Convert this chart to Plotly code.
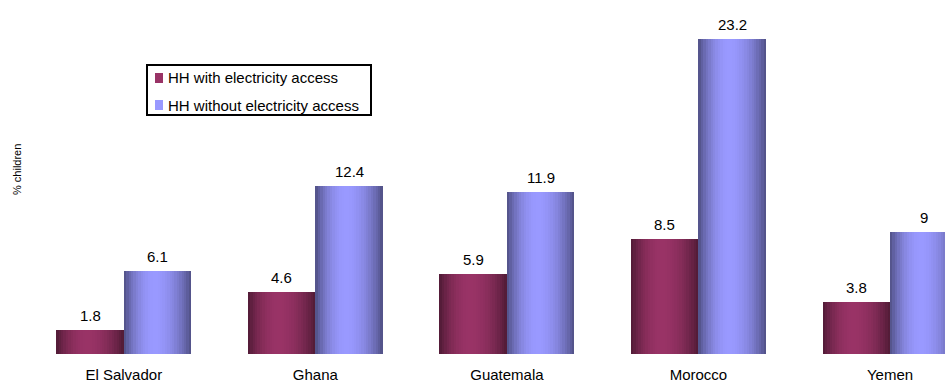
import math
import plotly.graph_objects as go

# Share of children by household electricity access
countries = ["El Salvador", "Ghana", "Guatemala", "Morocco", "Yemen"]
with_access = [1.8, 4.6, 5.9, 8.5, 3.8]
without_access = [6.1, 12.4, 11.9, 23.2, 9]
label_with = ["1.8", "4.6", "5.9", "8.5", "3.8"]
label_without = ["6.1", "12.4", "11.9", "23.2", "9"]
legend_names = ["HH with electricity access", "HH without electricity access"]

FONT = "Liberation Sans, Arial, sans-serif"
W, H = 945, 384
ML, MR, MT, MB = 28, 0, 0, 30
PW, PH = W - ML - MR, H - MT - MB

series = [
    (with_access, label_with, (153, 51, 102), -1),
    (without_access, label_without, (153, 153, 255), 0),
]

BAR_W = 0.3525      # width of one bar in category units
SLICES = 28         # vertical strips used to shade each bar like a cylinder
PEAK = 0.45         # horizontal position of the highlight


def shade(rgb, t):
    # brightness profile across the bar: dark edges, bright band near PEAK
    if t <= PEAK:
        u = t / PEAK * 0.5
    else:
        u = 0.5 + (t - PEAK) / (1 - PEAK) * 0.5
    f = 0.5 + 0.5 * math.sin(math.pi * u) ** 0.8
    r, g, b = (int(round(c * f)) for c in rgb)
    return f"rgb({r},{g},{b})"


def px(x):
    return (x - ML) / PW


def py(y):
    return 1 - (y - MT) / PH


xs = list(range(len(countries)))
fig = go.Figure()

for vals, labels, rgb, side in series:
    sw = BAR_W / SLICES
    for k in range(SLICES):
        t = (k + 0.5) / SLICES
        fig.add_trace(go.Bar(
            x=xs, y=vals,
            width=sw * 1.02,
            offset=side * BAR_W + k * sw,
            marker=dict(color=shade(rgb, t), line=dict(width=0)),
            showlegend=False, hoverinfo="skip",
        ))
    centre = side * BAR_W + BAR_W / 2
    for x, v, lab in zip(xs, vals, labels):
        fig.add_annotation(
            x=x + centre, y=v, text=lab, showarrow=False,
            yanchor="bottom", yshift=4,
            font=dict(family=FONT, size=15, color="#000"),
        )

# legend box drawn in paper coordinates
fig.add_shape(
    type="rect", xref="paper", yref="paper",
    x0=px(147), x1=px(371), y0=py(65), y1=py(115),
    line=dict(color="black", width=2), fillcolor="white", layer="above",
)
for i, (name, (_, _, rgb, _)) in enumerate(zip(legend_names, series)):
    cy = 78 + i * 27
    fig.add_shape(
        type="rect", xref="paper", yref="paper",
        x0=px(155), x1=px(163), y0=py(cy - 5), y1=py(cy + 5),
        line=dict(width=0), fillcolor="rgb(%d,%d,%d)" % rgb, layer="above",
    )
    fig.add_annotation(
        xref="paper", yref="paper", x=px(166), y=py(cy),
        xanchor="left", yanchor="middle", text=name, showarrow=False,
        font=dict(family=FONT, size=15, color="#000"),
    )

# y axis title
fig.add_annotation(
    xref="paper", yref="paper", x=px(17), y=py(170),
    text="% children", textangle=-90, showarrow=False,
    xanchor="center", yanchor="middle",
    font=dict(family=FONT, size=11, color="#000"),
)

fig.update_layout(
    width=W, height=H,
    margin=dict(l=ML, r=MR, t=MT, b=MB),
    paper_bgcolor="white", plot_bgcolor="white",
    barmode="overlay", bargap=0, showlegend=False,
    font=dict(family=FONT, size=15, color="#000"),
    xaxis=dict(
        range=[-0.5, 4.287], tickvals=xs, ticktext=countries,
        showgrid=False, zeroline=False, showline=False, ticks="",
        ticklabelstandoff=10, tickfont=dict(size=15),
    ),
    yaxis=dict(
        range=[0, 26.07], showgrid=False, zeroline=False, showline=False,
        showticklabels=False, ticks="",
    ),
)

fig.write_html("out.html")
